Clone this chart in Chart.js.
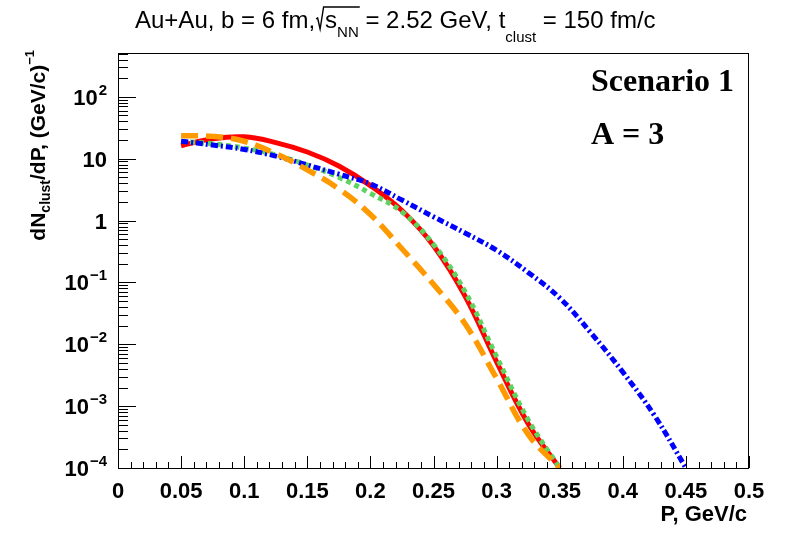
<!DOCTYPE html>
<html><head><meta charset="utf-8">
<script src="https://cdn.jsdelivr.net/npm/chart.js@4.4.1/dist/chart.umd.min.js"></script>
<style>html,body{margin:0;padding:0;background:#fff}canvas{display:block}</style>
</head><body>
<canvas id="c" width="788" height="534"></canvas>
<script>
// ---- data ----
const momentum = [0.05,0.075,0.10,0.125,0.15,0.175,0.20,0.225,0.25,0.275,0.30,0.325,0.35];
const momentumBlue = [0.05,0.075,0.10,0.125,0.15,0.175,0.20,0.225,0.25,0.275,0.30,0.325,0.35,0.375,0.40,0.425,0.45];
const redSolid     = [16.2,21.0,22.5,18.2,12.8,7.6,3.67,1.45,0.39,0.060,0.0052,5.2e-4,1.0e-4];
const orangeDashed = [23.4,22.9,19.1,12.0,6.6,3.24,1.25,0.35,0.093,0.0214,0.0028,3.5e-4,1.0e-4];
const greenDotted  = [19.1,17.4,14.8,11.5,7.9,5.0,2.75,1.38,0.41,0.071,0.0063,6.0e-4,1.0e-4];
const blueDashDot  = [19.1,16.6,14.1,11.0,7.9,5.6,3.9,2.14,1.15,0.63,0.33,0.145,0.056,0.0151,0.00355,7.1e-4,1.0e-4];
const xTickValues = [0,0.05,0.1,0.15,0.2,0.25,0.3,0.35,0.4,0.45,0.5];
const xTickLabels = ['0','0.05','0.1','0.15','0.2','0.25','0.3','0.35','0.4','0.45','0.5'];
const yTickValues = [1e-4,1e-3,1e-2,1e-1,1,10,100];
const yTickLabels = [['10','\u22124'],['10','\u22123'],['10','\u22122'],['10','\u22121'],['1',''],['10',''],['10','2']];
const yMin = 1e-4, yMax = 510, xMin = 0, xMax = 0.5;

const SANS = '"Liberation Sans", Arial, Helvetica, sans-serif';
const SERIF = '"Liberation Serif", "Times New Roman", serif';

function pts(xs, ys){ return xs.map((x,i)=>({x:x, y:ys[i]})); }

const decor = {
  id:'decor',
  afterDraw(chart){
    const ctx = chart.ctx, a = chart.chartArea;
    const xs = chart.scales.x, ys = chart.scales.y;
    ctx.save();
    // frame
    ctx.strokeStyle = '#000'; ctx.lineWidth = 1;
    ctx.strokeRect(Math.round(a.left)+0.5, Math.round(a.top)+0.5, Math.round(a.right-a.left)-1, Math.round(a.bottom-a.top));
    // x ticks
    ctx.beginPath();
    for (let k=0;k<=50;k++){
      const v = k*0.01;
      const px = Math.round(xs.getPixelForValue(v))+0.5;
      const len = (k%5===0)?12:6;
      ctx.moveTo(px, a.bottom); ctx.lineTo(px, a.bottom-len);
    }
    // y ticks
    for (let d=-4; d<=2; d++){
      for (let m=1; m<=9; m++){
        const v = m*Math.pow(10,d);
        if (v<yMin*0.999 || v>yMax) continue;
        const py = Math.round(ys.getPixelForValue(v))+0.5;
        const len = (m===1)?18:10;
        ctx.moveTo(a.left, py); ctx.lineTo(a.left+len, py);
      }
    }
    ctx.stroke();
    // x tick labels
    ctx.fillStyle = '#000';
    ctx.font = 'bold 22px '+SANS;
    ctx.textAlign = 'center'; ctx.textBaseline = 'alphabetic';
    xTickValues.forEach((v,i)=>{
      ctx.fillText(xTickLabels[i], xs.getPixelForValue(v), 498);
    });
    // y tick labels
    const supFont = 'bold 15px '+SANS;
    yTickValues.forEach((v,i)=>{
      const [base, sup] = yTickLabels[i];
      const py = ys.getPixelForValue(v);
      ctx.font = supFont; const sw = sup ? ctx.measureText(sup).width+1 : 0;
      const right = 107;
      ctx.textAlign = 'right';
      ctx.font = 'bold 22px '+SANS;
      ctx.fillText(base, right - sw, py + 8);
      if (sup){
        ctx.font = supFont; ctx.textAlign = 'left';
        ctx.fillText(sup, right - sw + 1, py - 2);
      }
    });
    // x axis title
    ctx.font = 'bold 22px '+SANS; ctx.textAlign = 'right';
    ctx.fillText('P, GeV/c', a.right - 2, 521);
    // y axis title (rotated)
    ctx.save();
    ctx.translate(45, 50);
    ctx.rotate(-Math.PI/2);
    const segs = [
      ['dN','bold 21px '+SANS, 0],
      ['clust','bold 14px '+SANS, 5],
      ['/dP, (GeV/c)','bold 21px '+SANS, 0],
      ['\u22121','bold 13px '+SANS, -11]
    ];
    let tot = 0;
    segs.forEach(s=>{ ctx.font = s[1]; s.w = ctx.measureText(s[0]).width; tot += s.w; });
    let cx = -tot; ctx.textAlign = 'left';
    segs.forEach(s=>{ ctx.font = s[1]; ctx.fillText(s[0], cx, s[2]); cx += s.w; });
    ctx.restore();
    // main title
    ctx.textAlign = 'left';
    const mainF = '24px '+SANS, subF = '15px '+SANS;
    let x = 135; const b = 28;
    function put(t, f, dy){ ctx.font = f; ctx.fillText(t, x, b+dy); x += ctx.measureText(t).width; }
    put('Au+Au, b = 6 fm,', mainF, 0);
    ctx.font = mainF; const sW = ctx.measureText('s').width;
    ctx.font = subF; const nnW = ctx.measureText('NN').width;
    ctx.beginPath(); ctx.lineWidth = 1.4;
    ctx.moveTo(x+1, b-9); ctx.lineTo(x+2.5, b-10); ctx.lineTo(x+5, b+1); ctx.lineTo(x+8.5, b-21);
    ctx.lineTo(x+10+sW+nnW+1, b-21); ctx.stroke();
    x += 10;
    put('s', mainF, 0);
    put('NN', subF, 8.5);
    put(' = 2.52 GeV, t', mainF, 0);
    put('clust', subF, 13.5);
    put(' = 150 fm/c', mainF, 0);
    // scenario labels
    ctx.font = 'bold 32px '+SERIF;
    ctx.fillText('Scenario 1', 591, 91);
    ctx.fillText('A = 3', 591, 144);
    ctx.restore();
  }
};

new Chart(document.getElementById('c'), {
  type:'line',
  data:{ datasets:[
    { label:'red', data:pts(momentum, redSolid), borderColor:'#ff0000', borderWidth:5, order:4 },
    { label:'green', data:pts(momentum, greenDotted), borderColor:'#5fd35f', borderWidth:5, borderDash:[5,4], order:3 },
    { label:'blue', data:pts(momentumBlue, blueDashDot), borderColor:'#0000ff', borderWidth:5, borderDash:[7,3,2,3], order:2 },
    { label:'orange', data:pts(momentum, orangeDashed), borderColor:'#ff9900', borderWidth:5.5, borderDash:[17,8], order:1 }
  ]},
  options:{
    responsive:false, animation:false, devicePixelRatio:1,
    layout:{ padding:{ left:118, right:39, top:53, bottom:66 } },
    plugins:{ legend:{display:false}, tooltip:{enabled:false}, title:{display:false} },
    elements:{ point:{ radius:0 }, line:{ tension:0.4, fill:false, borderCapStyle:'butt' } },
    scales:{
      x:{ type:'linear', min:xMin, max:xMax, display:false },
      y:{ type:'logarithmic', min:yMin, max:yMax, display:false }
    }
  },
  plugins:[decor]
});
</script>
</body></html>
